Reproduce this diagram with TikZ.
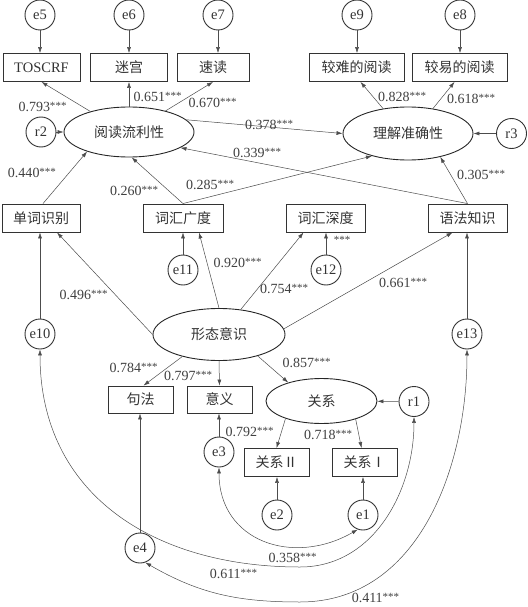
\documentclass[tikz,border=0pt]{standalone}
\usepackage{fontspec}
\setmainfont{Liberation Serif}
\newfontfamily\cjk{Noto Sans CJK SC}
\usetikzlibrary{shapes.geometric,arrows.meta,calc}
\newcommand{\pv}[1]{#1\raisebox{2.2pt}{\fontsize{11}{11}\selectfont ***}}
\tikzset{
  box/.style={draw=black!80, line width=0.9pt, minimum height=28pt, inner sep=0pt, text=black!80, font=\cjk\fontsize{14}{14}\selectfont},
  lbox/.style={box, font=\fontsize{14.5}{14.5}\selectfont},
  circ/.style={circle, draw=black!80, line width=0.9pt, minimum size=30pt, inner sep=0pt, text=black!80, font=\fontsize{14.5}{14.5}\selectfont},
  lat/.style={ellipse, draw=black!85, line width=0.9pt, inner sep=0pt, text=black!80, font=\cjk\fontsize{14}{14}\selectfont},
  arr/.style={-{Latex[length=6pt,width=4pt]}, draw=black!70, line width=0.5pt},
  cov/.style={{Latex[length=6pt,width=4pt]}-{Latex[length=6pt,width=4pt]}, draw=black!70, line width=0.5pt},
  lab/.style={inner sep=0pt, text=black!75, font=\fontsize{14}{14}\selectfont}
}
\begin{document}
\begin{tikzpicture}[x=1pt,y=-1pt]
\useasboundingbox (0,0) rectangle (527,607);
% top error circles
\node[circ] (e5) at (40,15) {e5};
\node[circ] (e6) at (129,15) {e6};
\node[circ] (e7) at (218,15) {e7};
\node[circ] (e9) at (357,15) {e9};
\node[circ] (e8) at (460,15) {e8};
% top boxes
\node[lbox, minimum width=77pt] (tos) at (41.5,67.5) {TOSCRF};
\node[box, minimum width=77pt] (mg) at (129,67.5) {迷宫};
\node[box, minimum width=72pt] (sd) at (213,67.5) {速读};
\node[box, minimum width=95pt] (jn) at (356.5,67.5) {较难的阅读};
\node[box, minimum width=95pt] (jy) at (459.5,67.5) {较易的阅读};
% latent top
\node[lat, minimum width=130pt, minimum height=50pt] (fl) at (129,132) {阅读流利性};
\node[lat, minimum width=130pt, minimum height=53pt] (ac) at (408,133.5) {理解准确性};
\node[circ] (r2) at (41,132) {r2};
\node[circ] (r3) at (511.5,133.5) {r3};
% row 2 boxes
\node[box, minimum width=78pt] (dc) at (41,218) {单词识别};
\node[box, minimum width=80pt] (gd) at (183,218) {词汇广度};
\node[box, minimum width=79pt] (sdp) at (325.5,218) {词汇深度};
\node[box, minimum width=79pt] (yf) at (467.5,218) {语法知识};
\node[circ] (e11) at (183,270) {e11};
\node[circ] (e12) at (326,270) {e12};
\node[circ] (e10) at (40,334) {e10};
\node[circ] (e13) at (467,334) {e13};
% morphology
\node[lat, minimum width=132pt, minimum height=52pt] (xt) at (219,334.5) {形态意识};
\node[box, minimum width=65pt, minimum height=27pt] (jf) at (140.5,399.5) {句法};
\node[box, minimum width=65pt, minimum height=27pt] (yy) at (219.5,399.5) {意义};
\node[lat, minimum width=111pt, minimum height=45pt] (gx) at (321.5,401) {关系};
\node[circ] (r1) at (414,401.5) {r1};
\node[circ] (e3) at (219,452) {e3};
\node[box, minimum width=65pt] (g2) at (276.5,462.5) {关系Ⅱ};
\node[box, minimum width=65pt] (g1) at (364.5,462.5) {关系Ⅰ};
\node[circ] (e2) at (277,515) {e2};
\node[circ] (e1) at (363,515) {e1};
\node[circ] (e4) at (140,548) {e4};
% error arrows
\draw[arr] (e5.south) -- (e5.south |- tos.north);
\draw[arr] (e6.south) -- (e6.south |- mg.north);
\draw[arr] (e7.south) -- (e7.south |- sd.north);
\draw[arr] (e9.south) -- (e9.south |- jn.north);
\draw[arr] (e8.south) -- (e8.south |- jy.north);
\draw[arr] (r2) -- (fl);
\draw[arr] (r3) -- (ac);
\draw[arr] (e11.north) -- (e11.north |- gd.south);
\draw[arr] (e12.north) -- (e12.north |- sdp.south);
\draw[arr] (e10.north) -- (e10.north |- dc.south);
\draw[arr] (e13.north) -- (e13.north |- yf.south);
\draw[arr] (r1) -- (gx);
\draw[arr] (e3.north) -- (e3.north |- yy.south);
\draw[arr] (e2.north) -- (e2.north |- g2.south);
\draw[arr] (e1.north) -- (e1.north |- g1.south);
\draw[arr] (e4.north) -- (e4.north |- jf.south);
% loadings
\draw[arr] (fl.152) -- (tos.south);
\draw[arr] (fl.north) -- (mg.south);
\draw[arr] (fl.30) -- (sd.south);
\draw[arr] (ac.135) -- ([xshift=4pt]jn.south);
\draw[arr] (ac.45) -- ([xshift=-5pt]jy.south);
\draw[arr] (fl.12) -- (ac.west);
% structural paths
\draw[arr] ([xshift=2pt]dc.north) -- (fl.205);
\draw[arr] (gd.north) -- (fl.-84);
\draw[arr] (gd.north) -- (ac.212);
\draw[arr] (yf.north) -- (fl.-17);
\draw[arr] (yf.north) -- (ac.-36);
\draw[arr] (xt.west) -- ([xshift=16pt]dc.south);
\draw[arr] (xt.north) -- ([xshift=16pt]gd.south);
\draw[arr] (xt.49) -- ([xshift=-22pt]sdp.south);
\draw[arr] (xt.5) -- ([xshift=-15pt]yf.south);
\draw[arr] (xt.211) -- ([xshift=3pt]jf.north);
\draw[arr] (xt.south) -- (yy.north);
\draw[arr] (xt.-29) -- (gx.151);
\draw[arr] (gx.206) -- (g2.north);
\draw[arr] (gx.-28) -- ([xshift=-3pt]g1.north);
% covariances
\draw[cov] (e10.south) to[out=-90,in=180,looseness=1.1] (300,567) to[out=0,in=-90] (r1.south);
\draw[cov] (e3.south) to[out=-90,in=-150,looseness=1.25] (e1.-110);
\draw[cov] (e4.-70) to[out=-30,in=180] (300,602) to[out=0,in=-90] (e13.south);
% labels
\node[lab] at (42.5,107) {\pv{0.793}};
\node[lab] at (157.5,97) {\pv{0.651}};
\node[lab] at (212.5,103) {\pv{0.670}};
\node[lab] at (269,125) {\pv{0.378}};
\node[lab] at (257,153) {\pv{0.339}};
\node[lab] at (32,173) {\pv{0.440}};
\node[lab] at (134,191) {\pv{0.260}};
\node[lab] at (210,185) {\pv{0.285}};
\node[lab] at (402,97) {\pv{0.828}};
\node[lab] at (471,99) {\pv{0.618}};
\node[lab] at (481,175) {\pv{0.305}};
\node[lab] at (83.5,295) {\pv{0.496}};
\node[lab] at (237.5,263) {\pv{0.920}};
\node[lab] at (284,289) {\pv{0.754}};
\node[lab] at (403,283) {\pv{0.661}};
\node[lab, font=\fontsize{11}{11}\selectfont] at (342,240) {***};
\node[lab] at (133.5,368) {\pv{0.784}};
\node[lab] at (188,376) {\pv{0.797}};
\node[lab] at (306.5,363) {\pv{0.857}};
\node[lab] at (249.5,432) {\pv{0.792}};
\node[lab] at (328,435) {\pv{0.718}};
\node[lab] at (292.5,558) {\pv{0.358}};
\node[lab] at (233.5,574) {\pv{0.611}};
\node[lab] at (375.5,598) {\pv{0.411}};
\end{tikzpicture}
\end{document}
